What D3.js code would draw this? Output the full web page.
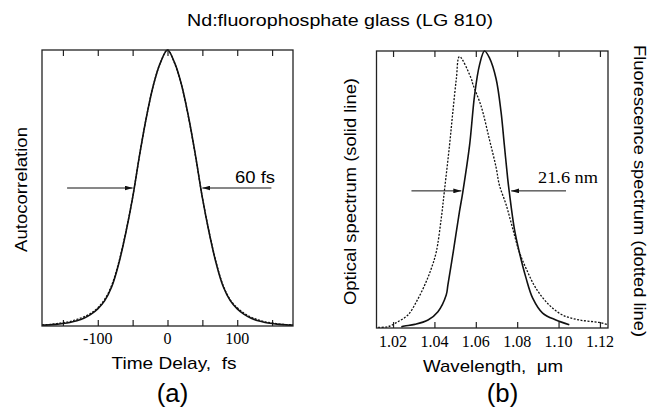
<!DOCTYPE html>
<html>
<head>
<meta charset="utf-8">
<script src="https://cdn.jsdelivr.net/npm/d3@7"></script>
<style>
  body { margin: 0; background: #fff; }
  svg { display: block; }
  text { white-space: pre; }
  .sans { font-family: "Liberation Sans", Arial, sans-serif; }
  .serif { font-family: "Liberation Serif", "Times New Roman", serif; }
</style>
</head>
<body>
<svg id="chart" width="657" height="409"></svg>
<script>
// panel (a): autocorrelation vs time delay (fs)
var delay = [-180,-170,-160,-150,-140,-130,-120,-110,-100,-90,-80,-70,-60,-50,-40,-30,-20,-10,0,
             10,20,30,40,50,60,70,80,90,100,110,120,130,140,150,160,170,180];
var acFit = [0.003,0.004,0.006,0.009,0.013,0.019,0.028,0.042,0.062,0.092,0.142,0.225,0.335,0.465,0.62,0.76,0.875,0.955,1.0,
             0.955,0.875,0.76,0.62,0.465,0.335,0.225,0.142,0.092,0.062,0.042,0.028,0.019,0.013,0.009,0.006,0.004,0.003];
var acMeas = [0.004,0.005,0.008,0.012,0.016,0.024,0.033,0.046,0.066,0.097,0.148,0.23,0.338,0.466,0.62,0.76,0.875,0.955,1.0,
              0.953,0.874,0.758,0.618,0.466,0.337,0.228,0.146,0.095,0.066,0.046,0.032,0.022,0.015,0.011,0.007,0.005,0.004];
var delayTicks = [-150,-100,-50,0,50,100,150];
var delayLabels = [-100,0,100];

// panel (b): optical spectrum (solid) and fluorescence spectrum (dotted)
var optWl = [1.024,1.0256,1.0305,1.0369,1.0417,1.0457,1.0465,1.0491,1.0521,1.0537,1.057,1.0594,1.0618,1.0642,
             1.0666,1.0698,1.0722,1.0738,1.0754,1.0762,1.0786,1.081,1.0843,1.0875,1.0923,1.0987,1.1052];
var optVal = [0.004,0.007,0.013,0.029,0.059,0.119,0.155,0.275,0.42,0.49,0.66,0.84,0.95,1.0,
              0.975,0.9,0.78,0.66,0.54,0.49,0.36,0.275,0.18,0.108,0.054,0.029,0.012];
var fluWl = [1.0128,1.0176,1.0224,1.0272,1.0313,1.0353,1.0385,1.0409,1.0433,1.0449,1.0473,1.0489,1.0506,1.0521,
             1.0578,1.0586,1.0626,1.0666,1.0698,1.0714,1.0747,1.0778,1.081,1.0843,1.0891,1.0955,1.1019,1.11,1.1196,1.1239];
var fluVal = [0.002,0.005,0.023,0.047,0.095,0.155,0.215,0.275,0.396,0.5,0.66,0.78,0.9,0.98,
              0.9,0.88,0.8,0.68,0.58,0.516,0.444,0.36,0.275,0.215,0.143,0.083,0.047,0.029,0.02,0.012];
var wlTicks = [1.02,1.04,1.06,1.08,1.10,1.12];

// FWHM markers
var fwhmA = { text: "60 fs", left: [-144, -50], right: [149, 50], level: 0.5 };
var fwhmB = { text: "21.6 nm", left: [1.0289, 1.053], right: [1.1036, 1.0771], level: 0.495 };

var svg = d3.select("#chart");

svg.append("defs").append("marker")
  .attr("id", "arrow")
  .attr("viewBox", "0 0 10 6")
  .attr("refX", 10).attr("refY", 3)
  .attr("markerUnits", "userSpaceOnUse")
  .attr("markerWidth", 8).attr("markerHeight", 5)
  .attr("orient", "auto")
  .append("path").attr("d", "M0,0L10,3L0,6Z").attr("fill", "#111");

// text helper: fixed width so the wide scanned lettering is matched
function label(cls, x, y, size, width, str, rot) {
  var t = svg.append("text").attr("class", cls)
    .attr("text-anchor", "middle")
    .style("font-size", size + "px")
    .text(str);
  if (rot) t.attr("transform", `translate(${x},${y}) rotate(${rot})`);
  else t.attr("x", x).attr("y", y);
  if (width) t.attr("textLength", width).attr("lengthAdjust", "spacingAndGlyphs");
  return t;
}

label("sans", 340, 26, 17, 306, "Nd:fluorophosphate glass (LG 810)");

function drawPanel(opt) {
  var x = opt.x, y = opt.y;
  var g = svg.append("g");
  var x0 = x.range()[0], x1 = x.range()[1], y0 = y.range()[0], y1 = y.range()[1];

  var clipId = "clip" + opt.id;
  g.append("clipPath").attr("id", clipId)
    .append("rect").attr("x", x0).attr("y", y1 - 2).attr("width", x1 - x0).attr("height", y0 - y1 + 2);

  // ticks inward, top and bottom
  g.append("g").attr("transform", `translate(0,${y0})`)
    .call(d3.axisTop(x).tickValues(opt.ticks).tickSize(6).tickFormat(""))
    .call(a => a.select(".domain").remove());
  g.append("g").attr("transform", `translate(0,${y1})`)
    .call(d3.axisBottom(x).tickValues(opt.ticks).tickSize(6).tickFormat(""))
    .call(a => a.select(".domain").remove());
  g.selectAll(".tick line").attr("stroke", "#222").attr("stroke-width", 1.2);

  // tick labels
  g.selectAll(".tlab").data(opt.labels).enter().append("text")
    .attr("class", "serif tlab")
    .attr("x", d => x(d)).attr("y", y0 + opt.labelDy)
    .attr("text-anchor", "middle")
    .style("font-size", "16px")
    .text(opt.fmt);

  var lines = g.append("g").attr("clip-path", `url(#${clipId})`);
  opt.series.forEach(s => {
    var line = d3.line()
      .x((d, i) => x(s.xs[i]))
      .y(d => y(d))
      .curve(d3.curveCatmullRom);
    lines.append("path")
      .datum(s.ys)
      .attr("fill", "none")
      .attr("stroke", "#111")
      .attr("stroke-width", s.dash ? 1.3 : 1.6)
      .attr("stroke-dasharray", s.dash || null)
      .attr("d", line);
  });

  g.append("rect")
    .attr("x", x0).attr("y", y1).attr("width", x1 - x0).attr("height", y0 - y1)
    .attr("fill", "none").attr("stroke", "#222").attr("stroke-width", 1.3);

  // FWHM arrows
  var f = opt.fwhm;
  [f.left, f.right].forEach(p => {
    g.append("line")
      .attr("x1", x(p[0])).attr("x2", x(p[1]))
      .attr("y1", y(f.level)).attr("y2", y(f.level))
      .attr("stroke", "#111").attr("stroke-width", 1)
      .attr("marker-end", "url(#arrow)");
  });
  label(opt.fwhmClass, opt.fwhmX, 183, opt.fwhmSize, opt.fwhmW, f.text);

  // x title and panel letter
  label("sans", opt.titleX, opt.titleY, 17, opt.titleW, opt.xTitle);
  label("sans", opt.letterX, 401.5, 25, 31.5, opt.letter);
  return g;
}

var xA = d3.scaleLinear().domain([-180, 180]).range([42, 293]);
var yA = d3.scaleLinear().domain([0, 1]).range([326, 50]);
drawPanel({
  id: "a", x: xA, y: yA,
  ticks: delayTicks, labels: delayLabels, labelDy: 18, fmt: d => d < 0 ? "-" + Math.abs(d) : d,
  series: [
    { xs: delay, ys: acMeas, dash: "2,1.5" },
    { xs: delay, ys: acFit }
  ],
  fwhm: fwhmA, fwhmClass: "sans", fwhmSize: 16, fwhmW: 40, fwhmX: 255,
  xTitle: "Time Delay,  fs", titleX: 174, titleY: 368.5, titleW: 125, letterX: 172.5, letter: "(a)"
});
label("sans", 27, 189.5, 17, 125, "Autocorrelation", -90);

var xB = d3.scaleLinear().domain([1.012, 1.1239]).range([376.5, 608]);
var yB = d3.scaleLinear().domain([0, 1]).range([328, 51]);
drawPanel({
  id: "b", x: xB, y: yB,
  ticks: wlTicks, labels: wlTicks, labelDy: 19, fmt: d => d.toFixed(2),
  series: [
    { xs: fluWl, ys: fluVal, dash: "2,1.5" },
    { xs: optWl, ys: optVal }
  ],
  fwhm: fwhmB, fwhmClass: "serif", fwhmSize: 17, fwhmW: 60, fwhmX: 568,
  xTitle: "Wavelength,  \u03bcm", titleX: 493, titleY: 371.5, titleW: 140, letterX: 502.5, letter: "(b)"
});
label("sans", 355.5, 191.5, 17, 227, "Optical spectrum (solid line)", -90);
label("sans", 634, 191, 17, 292, "Fluorescence spectrum (dotted line)", 90);
</script>
</body>
</html>
